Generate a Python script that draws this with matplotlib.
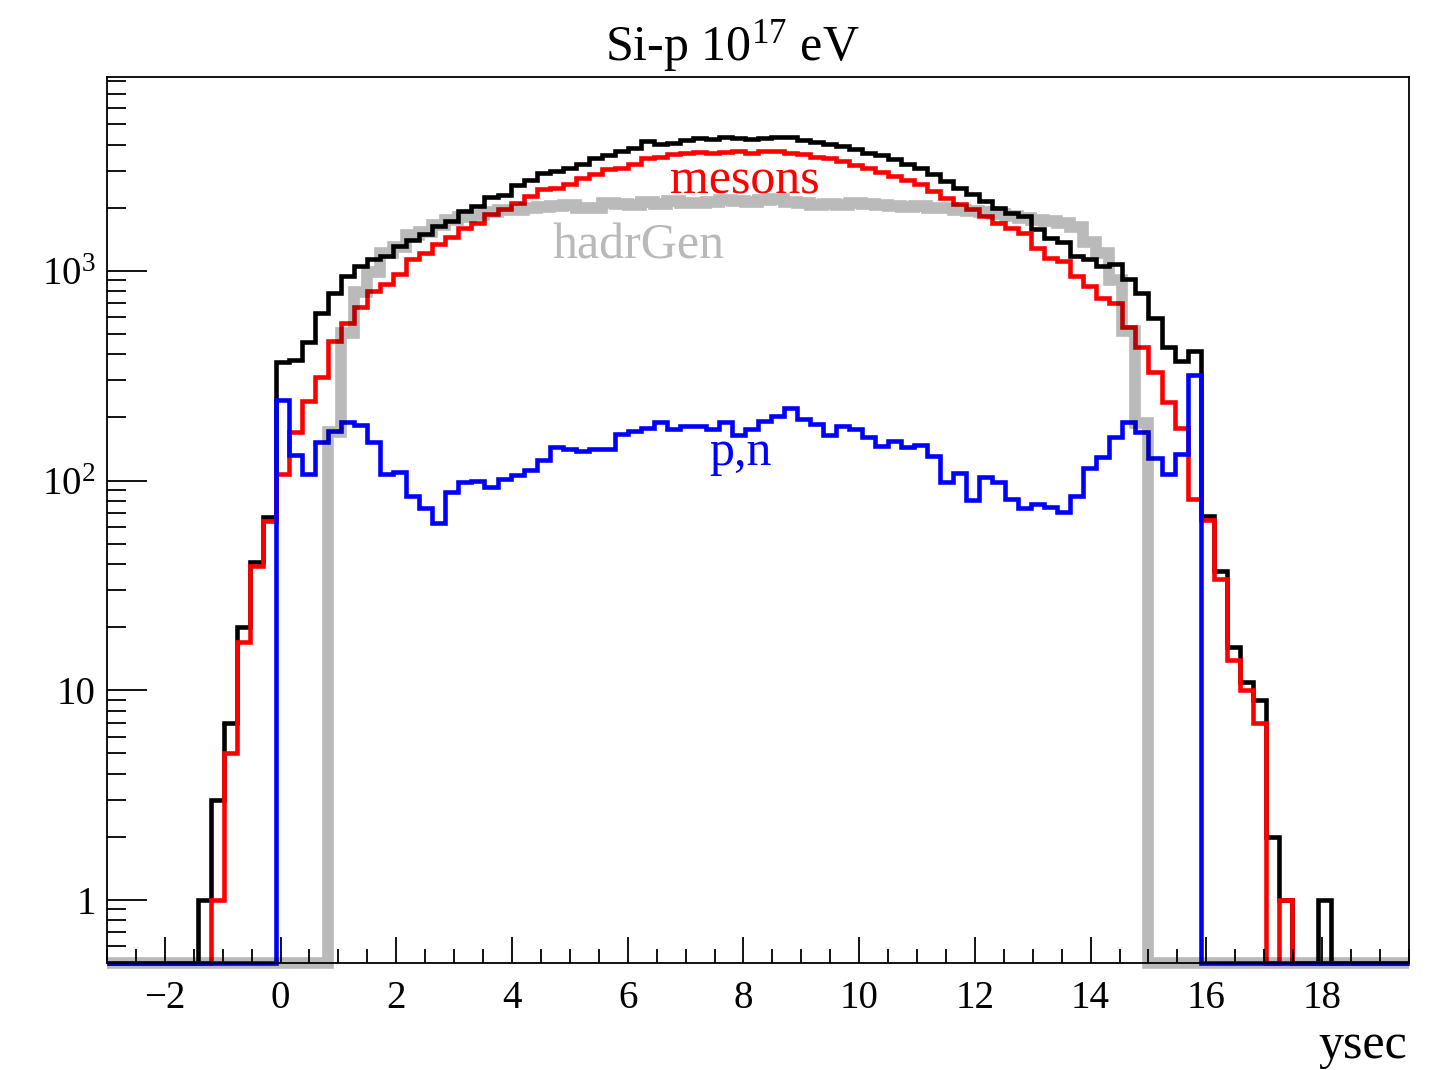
import numpy as np
import matplotlib
matplotlib.use("Agg")
import matplotlib.pyplot as plt
import matplotlib.ticker as tk

# 100 bins from -3 to 19.5 (width 0.225), counts
x_lo, x_hi, n_bins = -3.0, 19.5, 100

all_counts = [0, 0, 0, 0, 0, 0, 0, 1, 3, 7,
              20, 41, 67, 366, 375, 456, 626, 780, 946, 1056,
              1137, 1178, 1315, 1405, 1496, 1637, 1729, 1931, 2040, 2249,
              2300, 2569, 2705, 2919, 2993, 3104, 3221, 3464, 3567, 3727,
              3865, 4159, 4038, 4082, 4190, 4312, 4238, 4346, 4312, 4275,
              4312, 4346, 4346, 4190, 4130, 4038, 3940, 3795, 3656, 3567,
              3402, 3221, 3104, 2886, 2683, 2494, 2318, 2154, 2002, 1893,
              1828, 1578, 1441, 1366, 1178, 1137, 1056, 1076, 912, 788,
              599, 431, 373, 416, 68, 37, 16, 11, 9, 2,
              1, 0, 0, 1, 0, 0, 0, 0, 0, 0]

mesons = [0, 0, 0, 0, 0, 0, 0, 0, 1, 5,
          17, 39, 64, 108, 170, 240, 310, 464, 567, 669,
          803, 865, 965, 1137, 1223, 1340, 1456, 1606, 1698, 1863,
          1967, 2115, 2274, 2448, 2494, 2588, 2761, 2886, 3050, 3100,
          3244, 3438, 3490, 3594, 3633, 3700, 3640, 3700, 3728, 3656,
          3728, 3728, 3656, 3594, 3490, 3438, 3340, 3200, 3090, 2970,
          2832, 2705, 2588, 2402, 2233, 2093, 1967, 1828, 1698, 1606,
          1520, 1291, 1156, 1115, 946, 849, 746, 706, 537, 431,
          328, 236, 179, 82, 65, 34, 14, 10, 7, 0,
          1, 0, 0, 0, 0, 0, 0, 0, 0, 0]

nucleons = [0, 0, 0, 0, 0, 0, 0, 0, 0, 0,
            0, 0, 0, 243, 133, 108, 153, 173, 190, 183,
            152, 108, 110, 84, 74, 63, 88, 98, 100, 93,
            102, 106, 112, 125, 144, 141, 139, 142, 142, 167,
            173, 179, 190, 176, 181, 182, 176, 191, 165, 176,
            193, 202, 221, 197, 186, 164, 181, 176, 161, 146,
            155, 144, 147, 131, 98, 109, 81, 104, 98, 82,
            74, 77, 75, 71, 84, 115, 129, 161, 190, 171,
            128, 108, 134, 320, 0, 0, 0, 0, 0, 0,
            0, 0, 0, 0, 0, 0, 0, 0, 0, 0]

hadr_gen = [0, 0, 0, 0, 0, 0, 0, 0, 0, 0,
            0, 0, 0, 0, 0, 0, 0, 170, 505, 795,
            990, 1210, 1300, 1480, 1540, 1660, 1740, 1800, 1840, 1900,
            1940, 1960, 1990, 2020, 2040, 2060, 1990, 2000, 2100, 2080,
            2060, 2120, 2090, 2150, 2110, 2100, 2140, 2180, 2160, 2120,
            2170, 2190, 2140, 2100, 2060, 2080, 2050, 2100, 2080, 2060,
            2040, 2020, 2030, 2000, 1990, 1960, 1930, 1900, 1870, 1820,
            1780, 1750, 1720, 1690, 1620, 1380, 1210, 900, 515, 189,
            0, 0, 0, 0, 0, 0, 0, 0, 0, 0,
            0, 0, 0, 0, 0, 0, 0, 0, 0, 0]

y_min, y_max = 0.5, 8400

plt.rcParams['font.family'] = ['Liberation Serif', 'DejaVu Serif']
plt.rcParams['mathtext.fontset'] = 'custom'
plt.rcParams['mathtext.rm'] = 'Liberation Serif'
plt.rcParams['mathtext.it'] = 'Liberation Serif:italic'

fig = plt.figure(figsize=(14.45, 10.70), dpi=100)
ax = fig.add_axes([0.074, 0.100, 0.901, 0.828])

edges = np.linspace(x_lo, x_hi, n_bins + 1)


def draw_hist(counts, color, lw, alpha=1.0):
    # empty bins sit on the bottom of the frame, like ROOT does on log scale
    v = np.array(counts, dtype=float)
    v = np.where(v > 0, v, y_min)
    p = ax.stairs(v, edges, baseline=None, edgecolor=color, linewidth=lw,
                  alpha=alpha, joinstyle='miter', capstyle='butt')
    p.set_clip_on(False)
    return p


draw_hist(all_counts, 'black', 3.3)
draw_hist(mesons, '#ff0000', 3.3)
draw_hist(nucleons, '#0000ff', 3.3)
draw_hist(hadr_gen, 'black', 8.4, alpha=0.27)

ax.set_yscale('log')
ax.set_xlim(x_lo, x_hi)
ax.set_ylim(y_min, y_max)


def ylab(v, pos):
    if v == 1:
        return '1'
    if v == 10:
        return '10'
    e = int(round(np.log10(v)))
    return r'$\mathregular{10^{%d}}$' % e


ax.yaxis.set_major_locator(tk.LogLocator(base=10, numticks=10))
ax.yaxis.set_minor_locator(tk.LogLocator(base=10, subs=np.arange(2, 10), numticks=20))
ax.yaxis.set_major_formatter(tk.FuncFormatter(ylab))
ax.yaxis.set_minor_formatter(tk.NullFormatter())
ax.xaxis.set_major_locator(tk.MultipleLocator(2))
ax.xaxis.set_minor_locator(tk.MultipleLocator(0.5))

ax.tick_params(axis='both', which='both', direction='in', top=False, right=False,
               width=1.3, labelsize=28)
ax.tick_params(axis='x', which='major', length=19, pad=12)
ax.tick_params(axis='x', which='minor', length=10)
ax.tick_params(axis='y', which='major', length=29, pad=8)
ax.tick_params(axis='y', which='minor', length=14)
for s in ax.spines.values():
    s.set_linewidth(1.3)

# labels inside the frame
ax.text(8.02, 2350, 'mesons', color='#ff0000', fontsize=36, ha='center', va='baseline')
ax.text(6.18, 1150, 'hadrGen', color='#b9b9b9', fontsize=36, ha='center', va='baseline')
ax.text(7.95, 118, 'p,n', color='#0000ff', fontsize=36, ha='center', va='baseline')

fig.text(0.507, 0.944, r'Si-p 10$^{\mathrm{17}}$ eV', fontsize=36, ha='center', va='baseline')
fig.text(0.974, 0.011, 'ysec', fontsize=36, ha='right', va='baseline')

fig.savefig('out.png', dpi=100)
